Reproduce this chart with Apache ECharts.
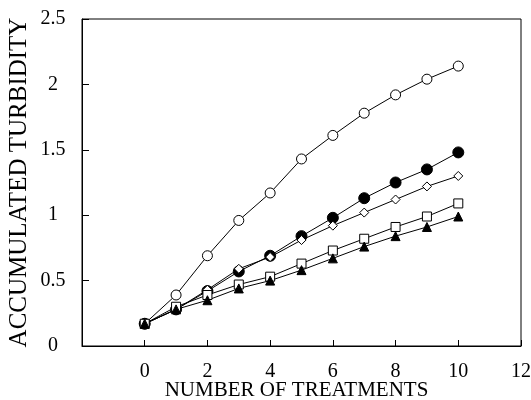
<!DOCTYPE html>
<html>
<head>
    <meta charset="UTF-8">
    <title>Accumulated turbidity</title>
    <script src="https://cdn.jsdelivr.net/npm/echarts@6/dist/echarts.min.js"></script>
    <style>
        html, body { margin: 0; padding: 0; background: #fff; }
    </style>
</head>
<body>
<div id="main" style="width: 531px;height:400px;"></div>
<script type="text/javascript">
    // data
    var treatments = [0, 1, 2, 3, 4, 5, 6, 7, 8, 9, 10];
    var openCircle = [0.17, 0.39, 0.69, 0.96, 1.17, 1.43, 1.61, 1.78, 1.92, 2.04, 2.14];
    var filledCircle = [0.17, 0.28, 0.42, 0.57, 0.69, 0.84, 0.98, 1.13, 1.25, 1.35, 1.48];
    var openDiamond = [0.17, 0.28, 0.43, 0.59, 0.68, 0.81, 0.92, 1.02, 1.12, 1.22, 1.30];
    var openSquare = [0.17, 0.30, 0.39, 0.47, 0.53, 0.63, 0.73, 0.82, 0.91, 0.99, 1.09];
    var filledTriangle = [0.17, 0.28, 0.35, 0.44, 0.50, 0.58, 0.67, 0.76, 0.84, 0.91, 0.99];

    var font = '"Liberation Serif", "Times New Roman", serif';

    function pairs(vals) {
        return treatments.map(function (t, i) { return [t, vals[i]]; });
    }

    function makeSeries(name, vals, symbol, size, filled) {
        return {
            name: name,
            type: 'line',
            data: pairs(vals),
            symbol: symbol,
            symbolSize: size,
            showSymbol: true,
            lineStyle: { color: '#000', width: 1 },
            itemStyle: {
                color: filled ? '#000' : '#fff',
                borderColor: '#000',
                borderWidth: 1
            },
            emphasis: { disabled: true },
            animation: false
        };
    }

    var myChart = echarts.init(document.getElementById('main'));

    var option = {
        backgroundColor: '#fff',
        grid: {
            left: 82,
            right: 10,
            top: 19,
            bottom: 54,
            outerBoundsMode: 'none',
            containLabel: false,
            show: true,
            borderColor: '#000',
            borderWidth: 1,
            backgroundColor: 'transparent'
        },
        xAxis: {
            type: 'value',
            min: -2,
            max: 12,
            interval: 2,
            name: 'NUMBER OF TREATMENTS',
            nameLocation: 'middle',
            nameGap: 34,
            nameMoveOverlap: false,
            nameTextStyle: { fontFamily: font, fontSize: 21, color: '#000', padding: [0, 10, 0, 0] },
            axisLine: { onZero: false, lineStyle: { color: '#000', width: 1 } },
            axisTick: { show: true, inside: true, interval: 0, length: 6, lineStyle: { color: '#000', width: 1 } },
            axisLabel: {
                fontFamily: font, fontSize: 20, color: '#000', margin: 16,
                formatter: function (v) { return v < 0 ? '' : String(v); }
            },
            splitLine: { show: false }
        },
        yAxis: {
            type: 'value',
            min: 0,
            max: 2.5,
            interval: 0.5,
            name: 'ACCUMULATED TURBIDITY',
            nameLocation: 'middle',
            nameGap: 50,
            nameMoveOverlap: false,
            nameRotate: 90,
            nameTextStyle: { fontFamily: font, fontSize: 25, color: '#000' },
            axisLine: { show: true, onZero: false, lineStyle: { color: '#000', width: 1 } },
            axisTick: { show: true, inside: true, interval: 0, length: 7, lineStyle: { color: '#000', width: 1 } },
            axisLabel: {
                fontFamily: font, fontSize: 20, color: '#000',
                align: 'center', margin: 29
            },
            splitLine: { show: false }
        },
        series: [
            makeSeries('open circle', openCircle, 'circle', 10, false),
            makeSeries('filled circle', filledCircle, 'circle', 11, true),
            makeSeries('open diamond', openDiamond, 'diamond', 9, false),
            makeSeries('open square', openSquare, 'rect', 9, false),
            makeSeries('filled triangle', filledTriangle, 'triangle', 9, true)
        ]
    };

    myChart.setOption(option);
</script>
</body>
</html>
